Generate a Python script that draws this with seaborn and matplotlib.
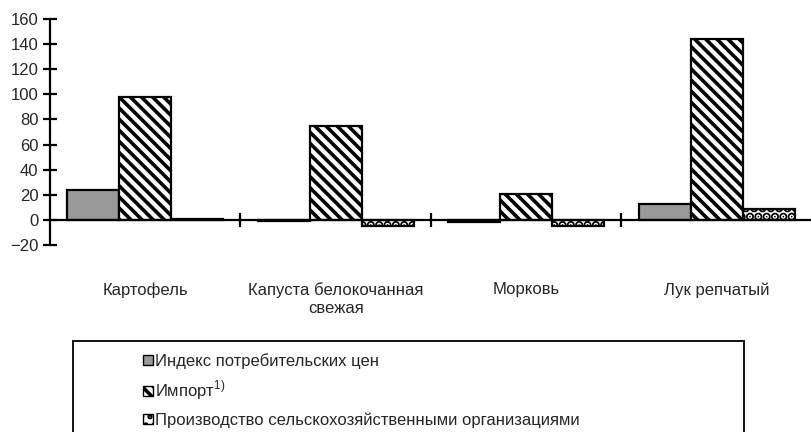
import pandas as pd
import matplotlib.pyplot as plt
import seaborn as sns
from matplotlib.patches import Patch, Rectangle

categories = ["Картофель", "Капуста белокочанная\nсвежая", "Морковь", "Лук репчатый"]
series = ["Индекс потребительских цен", "Импорт", "Производство сельскохозяйственными организациями"]
legend_labels = ["Индекс потребительских цен", "Импорт$^{1)}$", "Производство сельскохозяйственными организациями"]
cpi = [24, -1, -2, 13]
imports = [98, 75, 21, 144]
production = [0.5, -5, -5, 9]
yticks = list(range(-20, 161, 20))

sns.set_style("white")
plt.rcParams['font.family'] = ['Liberation Sans', 'DejaVu Sans']
plt.rcParams['mathtext.fontset'] = 'custom'
plt.rcParams['mathtext.rm'] = 'Liberation Sans'
plt.rcParams['hatch.linewidth'] = 2.6
plt.rcParams['hatch.color'] = 'black'

rows = []
for name, vals in zip(series, [cpi, imports, production]):
    for cat, v in zip(categories, vals):
        rows.append({"cat": cat, "val": v, "series": name})
df = pd.DataFrame(rows)

colors = ["#999999", "white", "white"]
hatches = [None, "\\\\\\", ".."]
hatch_lw = [None, 2.6, 4.5]

fig = plt.figure(figsize=(8.12, 4.32), dpi=100)
ax = fig.add_axes([50 / 812, 1 - 245 / 432, 1 - 50 / 812, (245 - 19) / 432])
sns.barplot(data=df, x="cat", y="val", hue="series", order=categories, hue_order=series,
            palette=colors, saturation=1, width=0.82, gap=0, edgecolor="black",
            linewidth=1.6, legend=False, ax=ax)

for cont, h, lw in zip(ax.containers, hatches, hatch_lw):
    for bar in cont:
        if h:
            bar.set_hatch(h)
            bar.set_hatch_linewidth(lw)

ax.set_xlim(-0.5, 3.5)
ax.set_ylim(-20, 160)
ax.set_xlabel("")
ax.set_ylabel("")
ax.set_yticks(yticks)
ax.spines['top'].set_visible(False)
ax.spines['right'].set_visible(False)
ax.spines['bottom'].set_position(('data', 0))
for s in ['bottom', 'left']:
    ax.spines[s].set_linewidth(1.6)
    ax.spines[s].set_color('black')

ax.tick_params(axis='y', direction='inout', length=10.5, width=1.6, labelsize=12, pad=3,
               left=True, color='black')
ax.set_xticks(range(len(categories)))
ax.set_xticklabels(categories, fontsize=12)
ax.set_xticks([0.5, 1.5, 2.5], minor=True)
ax.tick_params(axis='x', which='major', length=0, pad=45)
ax.tick_params(axis='x', which='minor', direction='inout', length=10.5, width=1.6,
               bottom=True, color='black')

handles = []
for c, h, lw in zip(colors, hatches, hatch_lw):
    p = Patch(facecolor=c, edgecolor='black', hatch=h, linewidth=1.0)
    if h:
        p.set_hatch_linewidth(lw)
    handles.append(p)
fig.legend(handles, legend_labels, loc='upper left', bbox_to_anchor=(143 / 812, 1 - 353 / 432),
           frameon=False, fontsize=12, handlelength=0.6, handleheight=0.6,
           handletextpad=0.15, labelspacing=0.6, borderpad=0, borderaxespad=0)
fig.patches.append(Rectangle((73 / 812, -0.01), (744 - 73) / 812, 0.01 + (432 - 341) / 432,
                             transform=fig.transFigure, fill=False, edgecolor='black', lw=1.3))

fig.savefig("out.png", dpi=100)
